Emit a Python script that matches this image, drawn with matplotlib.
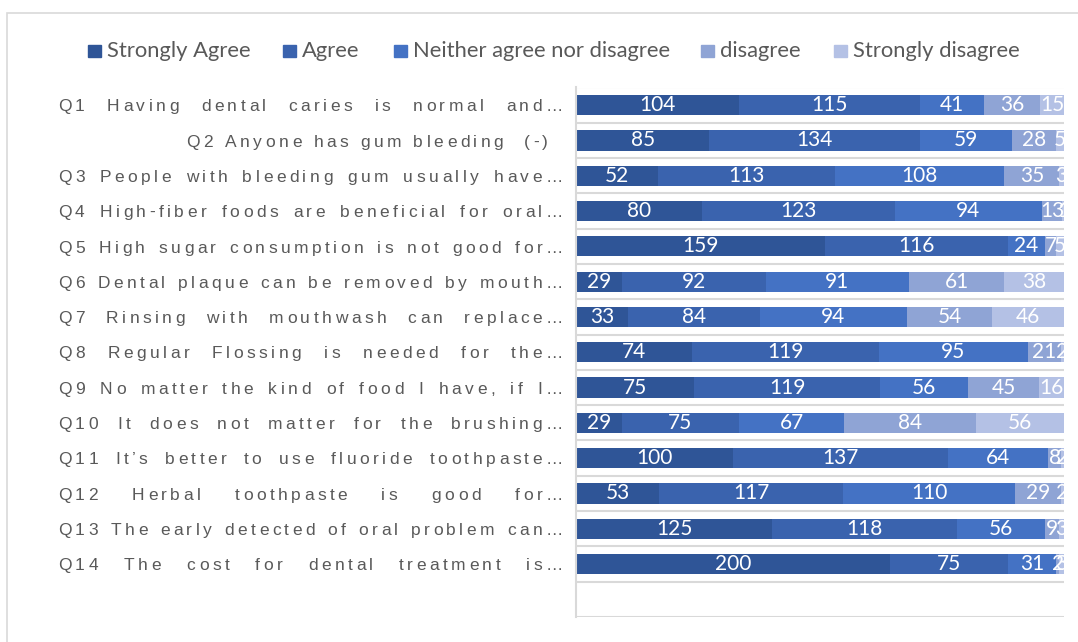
import matplotlib
matplotlib.use("Agg")
import matplotlib.pyplot as plt
from matplotlib.patches import Rectangle
from matplotlib.transforms import IdentityTransform
from matplotlib.font_manager import FontProperties
import numpy as np

questions = [
    "Q1 Having dental caries is normal and\u2026",
    "Q2 Anyone has gum bleeding  (-)",
    "Q3 People with bleeding gum usually have\u2026",
    "Q4 High-fiber foods are beneficial for oral\u2026",
    "Q5 High sugar consumption is not good for\u2026",
    "Q6 Dental plaque can be removed by mouth\u2026",
    "Q7 Rinsing with mouthwash can replace\u2026",
    "Q8 Regular Flossing is needed for the\u2026",
    "Q9 No matter the kind of food I have, if I\u2026",
    "Q10 It does not matter for the brushing\u2026",
    "Q11 It\u2019s better to use fluoride toothpaste\u2026",
    "Q12 Herbal toothpaste is good for\u2026",
    "Q13 The early detected of oral problem can\u2026",
    "Q14 The cost for dental treatment is\u2026",
]
series_names = ["Strongly Agree", "Agree", "Neither agree nor disagree",
                "disagree", "Strongly disagree"]
strongly_agree = [104, 85, 52, 80, 159, 29, 33, 74, 75, 29, 100, 53, 125, 200]
agree = [115, 134, 113, 123, 116, 92, 84, 119, 119, 75, 137, 117, 118, 75]
neither = [41, 59, 108, 94, 24, 91, 94, 95, 56, 67, 64, 110, 56, 31]
disagree = [36, 28, 35, 13, 7, 61, 54, 21, 45, 84, 8, 29, 9, 2]
strongly_disagree = [15, 5, 3, 1, 5, 38, 46, 2, 16, 56, 2, 2, 3, 3]

colors = ["#2F5597", "#3A63AE", "#4472C4", "#8FA4D5", "#B4C1E5"]

W, H = 1078, 642
fig = plt.figure(figsize=(W / 100, H / 100), dpi=100)
fig.patch.set_facecolor("white")

# outer chart border
fig.patches.append(Rectangle((7 / W, -0.05), 1.1, 1 - 13 / H + 0.05,
                             transform=fig.transFigure, fill=False,
                             edgecolor="#D9D9D9", lw=1.2))

ax = fig.add_axes([576 / W, 1 - 617 / H, (1064 - 576) / W, (617 - 87.5) / H])
n = len(questions)
data = [strongly_agree, agree, neither, disagree, strongly_disagree]
totals = np.sum(data, axis=0)
ax.set_xlim(0, totals.max())
ax.set_ylim(n + 0.5, -0.5)

for k in range(n + 2):
    ax.axhline(k - 0.5, color="#D9D9D9", lw=1.5, zorder=0)

y = np.arange(n)
left = np.zeros(n)
for vals, col in zip(data, colors):
    vals = np.array(vals)
    ax.barh(y, vals, left=left, height=0.57, color=col, zorder=2)
    for yi, l, v in zip(y, left, vals):
        ax.text(l + v / 2, yi, str(v), ha="center", va="center",
                color="white", fontsize=15, family="Lato",
                clip_on=True, zorder=3)
    left += vals

ax.set_xticks([])
ax.set_yticks([])
for s in ["top", "right", "bottom"]:
    ax.spines[s].set_visible(False)
ax.spines["left"].set_color("#D9D9D9")
ax.spines["left"].set_linewidth(1.5)

# legend
sq_x = [88, 283, 394, 701, 834]
for name, col, sx in zip(series_names, colors, sq_x):
    fig.patches.append(Rectangle((sx / W, 1 - 57 / H), 13 / W, 12 / H,
                                 transform=fig.transFigure, color=col))
    fig.text((sx + 19) / W, 1 - 51 / H, name, ha="left", va="center",
             fontsize=15.8, family="Lato", color="#595959")

# category labels: tracked, justified text
fig.canvas.draw()
renderer = fig.canvas.get_renderer()
fsize = 12.5
fp = FontProperties(family="Liberation Sans", size=fsize)
em = fsize * 100 / 72


def char_w(ch):
    if ch == " ":
        a = renderer.get_text_width_height_descent("a a", fp, ismath=False)[0]
        b = renderer.get_text_width_height_descent("aa", fp, ismath=False)[0]
        return a - b
    return renderer.get_text_width_height_descent(ch, fp, ismath=False)[0]


track = 3.5
x_left, x_right = 58, 563
for i, label in enumerate(questions):
    yc = ax.transData.transform((0, i))[1]
    base = yc - 0.716 * em / 2
    widths = [char_w(c) for c in label]
    natural = sum(widths) + track * (len(label) - 1)
    if i == 1:
        x = 548 - natural
        extra = 0.0
        t = track
    else:
        x = x_left
        extra = (x_right - x_left - natural) / label.count(" ")
        t = track
        if extra < 0:
            extra = 0.0
            t = track + (x_right - x_left - natural) / (len(label) - 1)
    for c, w in zip(label, widths):
        if c != " ":
            fig.text(x, base, c, transform=IdentityTransform(), ha="left",
                     va="baseline", fontproperties=fp, color="#595959")
        x += w + t + (extra if c == " " else 0)

fig.savefig("out.png", dpi=100)
